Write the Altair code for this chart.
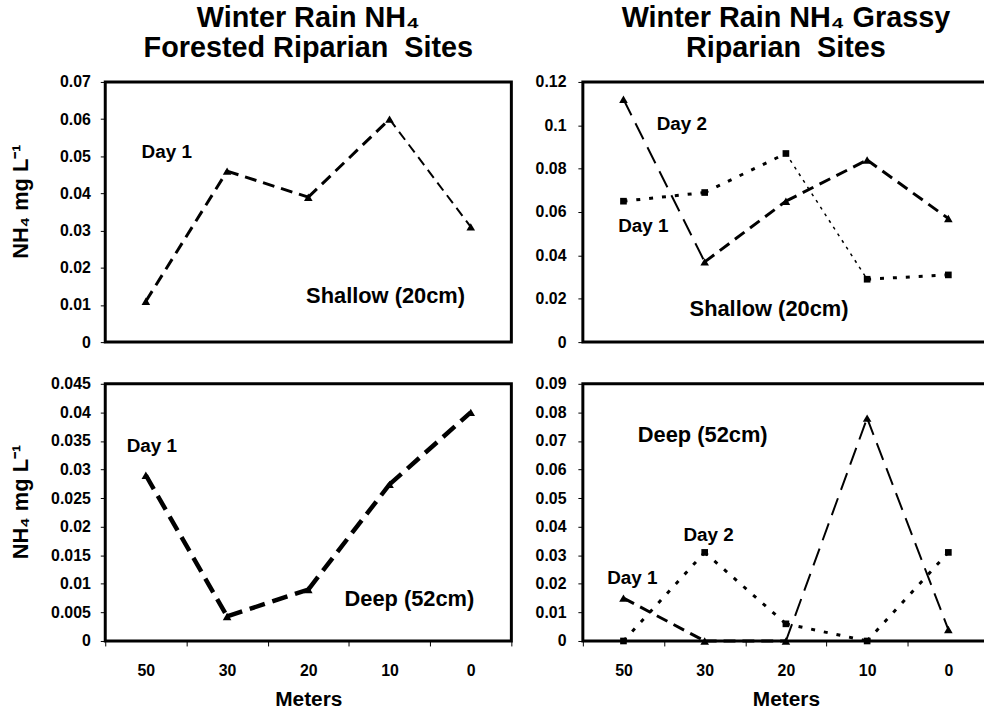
import altair as alt
import pandas as pd

# Distance along the transect (m) and NH4 concentrations (mg/L)
meters = ["50", "30", "20", "10", "0"]

forest_shallow_day1 = [0.011, 0.046, 0.039, 0.060, 0.031]
forest_deep_day1 = [0.029, 0.0043, 0.009, 0.0274, 0.040]
grassy_shallow_day1 = [0.065, 0.069, 0.087, 0.029, 0.031]
grassy_shallow_day2 = [0.112, 0.037, 0.065, 0.084, 0.057]
grassy_deep_day1 = [0.015, 0.0, 0.0, 0.078, 0.004]
grassy_deep_day2 = [0.0, 0.031, 0.006, 0.0, 0.031]

# y-axis tick labels for each panel
forest_shallow_ticks = [0, 0.01, 0.02, 0.03, 0.04, 0.05, 0.06, 0.07]
grassy_shallow_ticks = [0, 0.02, 0.04, 0.06, 0.08, 0.1, 0.12]
forest_deep_ticks = [0, 0.005, 0.01, 0.015, 0.02, 0.025, 0.03, 0.035, 0.04, 0.045]
grassy_deep_ticks = [0, 0.01, 0.02, 0.03, 0.04, 0.05, 0.06, 0.07, 0.08, 0.09]

FONT = "Liberation Sans"
Y_TITLE = "NH₄ mg L⁻¹"

# stroke width and dash pattern of each line style
LINE_STYLES = {
    "dash": (3.0, [12, 7]),
    "dash_thin": (2.0, [10, 6]),
    "dash_heavy": (4.5, [16, 8]),
    "longdash_thin": (2.0, [18, 9]),
    "dot": (3.0, [4, 9]),
    "dot_thin": (1.5, [3, 5]),
}
# symbol shape and area of each marker
MARKERS = {"triangle": ("triangle-up", 75), "square": ("square", 45)}


def series_rows(name, values, marker, seg_styles):
    """Split a series into two-point segments so each can carry its own style."""
    seg_rows = []
    for k, style in enumerate(seg_styles):
        for j in (k, k + 1):
            seg_rows.append({"meters": meters[j], "value": values[j],
                             "seg": f"{name}-{k}", "style": style})
    pt_rows = [{"meters": m, "value": v, "marker": marker}
               for m, v in zip(meters, values)]
    return seg_rows, pt_rows


def panel(series, ticks, notes, height, title=None, show_x=False,
          y_title=None, y_label_pad=10, y_title_pad=20):
    seg_rows, pt_rows = [], []
    for s in series:
        a, b = series_rows(*s)
        seg_rows += a
        pt_rows += b
    seg_df = pd.DataFrame(seg_rows)
    pt_df = pd.DataFrame(pt_rows)

    x_scale = alt.Scale(type="band", domain=meters, paddingInner=0, paddingOuter=0)
    if show_x:
        x = alt.X("meters:O", scale=x_scale, bandPosition=0.5, title="Meters",
                  axis=alt.Axis(tickBand="extent", labelAngle=0, labelPadding=17,
                                titlePadding=10, titleFontSize=21))
    else:
        x = alt.X("meters:O", scale=x_scale, bandPosition=0.5, axis=None)

    y_axis = alt.Axis(values=ticks, format=".3~g", labelPadding=y_label_pad,
                      titlePadding=y_title_pad, titleFontSize=22,
                      titleY=height / 2 - 11, labelOverlap=False)
    y = alt.Y("value:Q", scale=alt.Scale(domain=[0, ticks[-1]], nice=False, zero=True),
              axis=y_axis, title=y_title)

    layers = []
    for style in dict.fromkeys(seg_df["style"]):
        width, dash = LINE_STYLES[style]
        layers.append(
            alt.Chart(seg_df[seg_df["style"] == style])
            .mark_line(color="black", strokeWidth=width, strokeDash=dash, strokeCap="butt")
            .encode(x=x, y=y, detail="seg:N")
        )
    for marker in dict.fromkeys(pt_df["marker"]):
        shape, size = MARKERS[marker]
        layers.append(
            alt.Chart(pt_df[pt_df["marker"] == marker])
            .mark_point(filled=True, color="black", opacity=1, shape=shape, size=size)
            .encode(x=x, y=y)
        )
    for text, at, value, dx, size in notes:
        layers.append(
            alt.Chart(pd.DataFrame({"meters": [at], "value": [value], "label": [text]}))
            .mark_text(font=FONT, fontWeight="bold", fontSize=size, dx=dx, color="black")
            .encode(x=x, y=y, text="label:N")
        )

    props = {"width": 409, "height": height}
    if title:
        props["title"] = alt.TitleParams(text=title, anchor="middle", frame="group",
                                         fontSize=29, lineHeight=30, offset=11)
    return alt.layer(*layers).properties(**props)


forest_shallow = panel(
    [("fs1", forest_shallow_day1, "triangle", ["dash", "dash", "dash", "dash_thin"])],
    forest_shallow_ticks,
    [("Day 1", "50", 0.0512, 21, 19), ("Shallow (20cm)", "10", 0.0123, -4, 22)],
    height=262, title=["Winter Rain NH₄", "Forested Riparian\u00a0 Sites"],
    y_title=Y_TITLE, y_label_pad=10, y_title_pad=27,
)

grassy_shallow = panel(
    [("gs2", grassy_shallow_day2, "triangle", ["longdash_thin", "dash", "dash", "dash"]),
     ("gs1", grassy_shallow_day1, "square", ["dot", "dot", "dot_thin", "dot"])],
    grassy_shallow_ticks,
    [("Day 2", "30", 0.1008, -23, 19), ("Day 1", "50", 0.0536, 20, 19),
     ("Shallow (20cm)", "20", 0.0151, -17, 22)],
    height=262, title=["Winter Rain NH₄ Grassy", "Riparian\u00a0 Sites"],
    y_label_pad=12,
)

forest_deep = panel(
    [("fd1", forest_deep_day1, "triangle", ["dash_heavy"] * 4)],
    forest_deep_ticks,
    [("Day 1", "50", 0.0341, 6, 19), ("Deep (52cm)", "10", 0.00735, 20, 22)],
    height=259, show_x=True, y_title=Y_TITLE, y_label_pad=10, y_title_pad=18,
)

grassy_deep = panel(
    [("gd1", grassy_deep_day1, "triangle", ["dash", "dash", "longdash_thin", "longdash_thin"]),
     ("gd2", grassy_deep_day2, "square", ["dot"] * 4)],
    grassy_deep_ticks,
    [("Deep (52cm)", "30", 0.072, -2, 22), ("Day 2", "30", 0.037, 4, 19),
     ("Day 1", "50", 0.022, 9, 19)],
    height=259, show_x=True, y_label_pad=12,
)

# the right-hand frames run past the page edge, so the right padding trims them
chart = (
    alt.concat(forest_shallow, grassy_shallow, forest_deep, grassy_deep,
               columns=2, spacing={"row": 22, "column": 20})
    .properties(padding={"left": 8, "top": 0, "right": -7, "bottom": 0})
    .configure(font=FONT)
    .configure_view(stroke="black", strokeWidth=3)
    .configure_axis(labelFont=FONT, labelFontSize=16, labelFontWeight="bold",
                    labelColor="black", titleFont=FONT, titleFontWeight="bold",
                    titleColor="black", tickColor="black", tickSize=5, tickWidth=1,
                    domain=False, grid=False)
    .configure_title(font=FONT, fontWeight="bold", color="black")
)

chart.save("out.html", embed_options={"renderer": "svg", "actions": False})
